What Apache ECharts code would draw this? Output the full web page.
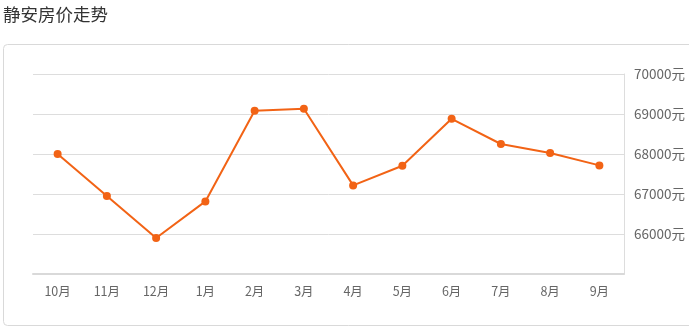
<!DOCTYPE html>
<html>
<head>
<meta charset="utf-8">
<script src="https://cdn.jsdelivr.net/npm/echarts@6/dist/echarts.min.js"></script>
<style>
html,body{margin:0;padding:0;background:#fff;}
#c{width:689px;height:328px;}
</style>
</head>
<body>
<div id="c"></div>
<script>
var titleText = '静安房价走势';
var categories = ['10月','11月','12月','1月','2月','3月','4月','5月','6月','7月','8月','9月'];
var prices = [68000, 66950, 65900, 66815, 69080, 69130, 67215, 67705, 68880, 68250, 68025, 67715];
var yMin = 65000, yMax = 70000, yStep = 1000;
var unit = '元';

var chart = echarts.init(document.getElementById('c'), null, {renderer:'canvas'});
var font = '"Noto Sans CJK SC", "Noto Sans", sans-serif';
chart.setOption({
  animation: false,
  textStyle: {fontFamily: font},
  title: {
    text: titleText, left: 3, top: 6, padding: 0,
    textStyle: {fontSize: 17.5, fontWeight: 'normal', color: '#333', fontFamily: font}
  },
  graphic: [{
    type: 'rect', left: 3, top: 44, z: -1,
    shape: {width: 720, height: 281, r: 4},
    style: {fill: '#fff', stroke: '#d9d9d9', lineWidth: 1}
  }],
  grid: {left: 33, right: 65, top: 74, bottom: 54},
  xAxis: {
    type: 'category', data: categories, boundaryGap: true,
    axisLine: {lineStyle: {color: '#d9d9d9', width: 2}},
    axisTick: {alignWithLabel: true, length: 4, lineStyle: {color: '#e3e3e3'}},
    axisLabel: {color: '#666', fontSize: 12.5, margin: 11, fontFamily: font}
  },
  yAxis: {
    type: 'value', position: 'right', min: yMin, max: yMax, interval: yStep,
    axisLine: {show: true, lineStyle: {color: '#ddd', width: 1}},
    axisTick: {show: false},
    splitLine: {lineStyle: {color: '#ddd'}},
    axisLabel: {
      color: '#666', fontSize: 13.5, margin: 10, fontFamily: font,
      formatter: function(v){ return v === yMin ? '' : v + unit; }
    }
  },
  series: [{
    type: 'line', data: prices,
    symbol: 'circle', symbolSize: 8,
    lineStyle: {color: '#f26315', width: 2},
    itemStyle: {color: '#f26315'}
  }]
});
</script>
</body>
</html>
